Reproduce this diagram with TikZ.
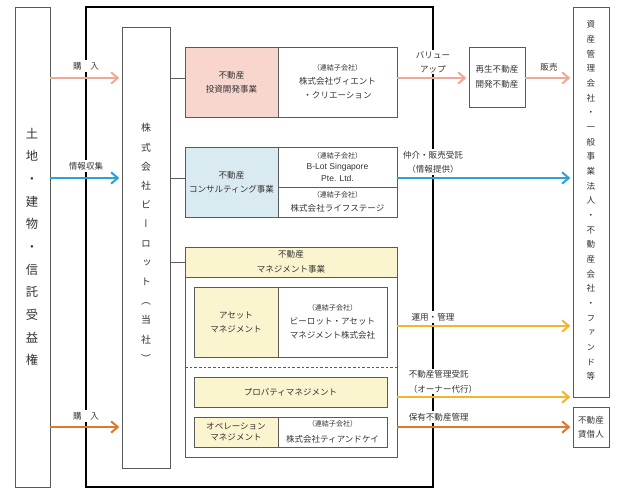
\documentclass[tikz,border=0pt]{standalone}
\usepackage{fontspec}
\setmainfont{Noto Sans CJK JP}
\newfontfamily\vfont[RawFeature=+vert]{Noto Sans CJK JP}
\newfontfamily\latinfont{Liberation Sans}
\usetikzlibrary{arrows.meta,fit}
\definecolor{bgray}{HTML}{5A5A5A}
\definecolor{tgray}{HTML}{333333}
\definecolor{pinkfill}{HTML}{F8D6CD}
\definecolor{bluefill}{HTML}{DAEAF1}
\definecolor{yelfill}{HTML}{FAF4CF}
\definecolor{pinkarr}{HTML}{F0A896}
\definecolor{bluearr}{HTML}{2CA0DA}
\definecolor{yelarr}{HTML}{F3B52E}
\definecolor{orarr}{HTML}{E0782B}
\newcommand\subco{{\fontsize{5.3}{9}\selectfont （連結子会社）}}
\tikzset{
  bx/.style={draw=bgray, line width=0.6pt, inner sep=0pt, outer sep=0pt},
  t/.style={font=\fontsize{6.4}{10.5}\selectfont, align=center, inner sep=0pt, text=tgray},
  lbl/.style={t, fill=white, inner sep=1.2pt},
  arr/.style={line width=1.5pt, -{Straight Barb[length=5pt,width=8.5pt]}, shorten >=2pt},
  link/.style={draw=bgray, line width=0.6pt},
}
\begin{document}
\begin{tikzpicture}[x=0.75pt,y=-0.75pt]
\useasboundingbox (0,0) rectangle (625,495);
% outer frame
\draw[line width=1pt] (86,7) rectangle (433,487);
% left box
\node[bx, fill=white, fit={(15,7)(50,487)}] (L) {};
\node[t, font=\fontsize{9.2}{17}\selectfont] at (32,247) {土\\地\\・\\建\\物\\・\\信\\託\\受\\益\\権};
% company box
\node[bx, fill=white, fit={(122,27)(170,468)}] (C) {};
\node[t, font=\fontsize{7.4}{14.4}\selectfont\vfont] at (146,243) {株\\式\\会\\社\\ビ\\ー\\ロ\\ッ\\ト\\（\\当\\社\\）};
% helper coordinates
\coordinate (y78) at (0,78);
\coordinate (y178) at (0,178);
\coordinate (y262) at (0,262);
\coordinate (y326) at (0,326);
\coordinate (y367) at (0,367);
\coordinate (y397) at (0,397);
\coordinate (y427) at (0,427);
% business 1
\node[bx, fill=pinkfill, fit={(185,47)(278,117)}] (inv) {};
\node[t] at (inv.center) {不動産\\投資開発事業};
\node[bx, fit={(278,47)(397,117)}] (invS) {};
\node[t] at (invS.center) {\subco\\株式会社ヴィエント\\・クリエーション};
% business 2
\node[bx, fill=bluefill, fit={(185,147)(278,217)}] (con) {};
\node[t] at (con.center) {不動産\\コンサルティング事業};
\node[bx, fit={(278,147)(397,187)}] (conA) {};
\node[t, font=\fontsize{6.4}{8.6}\selectfont] at (conA.center) {\subco\\{\latinfont B-Lot Singapore}\\{\latinfont Pte. Ltd.}};
\node[bx, fit={(278,187)(397,217)}] (conB) {};
\node[t] at (conB.center) {\subco\\株式会社ライフステージ};
% business 3
\node[bx, fit={(185,247)(397,457)}] (M) {};
\node[bx, fill=yelfill, fit={(185,247)(397,277)}] (MH) {};
\node[t, font=\fontsize{6.4}{11}\selectfont] at (MH.center) {不動産\\マネジメント事業};
\node[bx, fill=yelfill, fit={(194,287)(278,357)}] (am) {};
\node[t] at (am.center) {アセット\\マネジメント};
\node[bx, fit={(278,287)(387,357)}] (amS) {};
\node[t] at (amS.center) {\subco\\ビーロット・アセット\\マネジメント株式会社};
\draw[bgray, line width=0.6pt, dash pattern=on 2pt off 1.5pt] (M.west |- y367) -- (M.east |- y367);
\node[bx, fill=yelfill, fit={(194,377)(387,407)}] (pm) {};
\node[t] at (pm.center) {プロパティマネジメント};
\node[bx, fill=yelfill, fit={(194,417)(278,447)}] (om) {};
\node[t, font=\fontsize{6.4}{7.8}\selectfont] at (om.center) {オペレーション\\マネジメント};
\node[bx, fit={(278,417)(387,447)}] (omS) {};
\node[t, font=\fontsize{6.4}{12}\selectfont] at (omS.center) {\subco\\株式会社ティアンドケイ};
% right side
\node[bx, fit={(469,47)(525,107)}] (R) {};
\node[t, font=\fontsize{6.4}{11}\selectfont] at (R.center) {再生不動産\\開発不動産};
\node[bx, fit={(573,7)(609,397)}] (T) {};
\node[t, font=\fontsize{6.4}{11}\selectfont\vfont] at (591,200.5) {資\\産\\管\\理\\会\\社\\・\\一\\般\\事\\業\\法\\人\\・\\不\\動\\産\\会\\社\\・\\フ\\ァ\\ン\\ド\\等};
\node[bx, fit={(573,407)(609,447)}] (Ls) {};
\node[t, font=\fontsize{6.4}{10.5}\selectfont] at (Ls.center) {不動産\\賃借人};
% links company -> businesses
\draw[link] (C.east |- y78) -- (inv.west |- y78);
\draw[link] (C.east |- y178) -- (con.west |- y178);
\draw[link] (C.east |- y262) -- (MH.west |- y262);
% arrows
\draw[arr, pinkarr] (L.east |- y78) -- (C.west |- y78);
\draw[arr, bluearr] (L.east |- y178) -- (C.west |- y178);
\draw[arr, orarr] (L.east |- y427) -- (C.west |- y427);
\draw[arr, pinkarr] (invS.east |- y78) -- (R.west |- y78);
\draw[arr, pinkarr] (R.east |- y78) -- (T.west |- y78);
\draw[arr, bluearr] (conA.east |- y178) -- (T.west |- y178);
\draw[arr, yelarr] (M.east |- y326) -- (T.west |- y326);
\draw[arr, yelarr] (M.east |- y397) -- (T.west |- y397);
\draw[arr, orarr] (M.east |- y427) -- (Ls.west |- y427);
% labels
\node[lbl] (l1) at (86,66) {購　入};
\node[lbl] (l2) at (86,166) {情報収集};
\node[lbl] (l3) at (86,416) {購　入};
\node[lbl, font=\fontsize{6.4}{10.5}\selectfont] (l4) at (433,62) {バリュー\\アップ};
\node[t] (l5) at (549,67) {販売};
\node[lbl, font=\fontsize{6.4}{10.5}\selectfont] (l6) at (433,162) {仲介・販売受託\\（情報提供）};
\node[lbl] (l7) at (433,317) {運用・管理};
\node[lbl, anchor=west, align=left, font=\fontsize{6.4}{11}\selectfont] (l8) at (407,381.5) {不動産管理受託\\（オーナー代行）};
\node[lbl, anchor=west] (l9) at (407,417) {保有不動産管理};
\end{tikzpicture}
\end{document}
